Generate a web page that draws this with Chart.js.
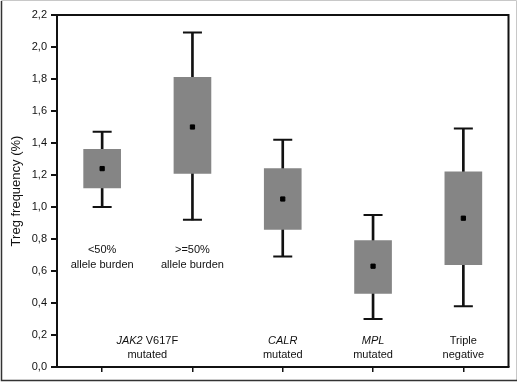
<!DOCTYPE html>
<html>
<head>
<meta charset="utf-8">
<script src="https://cdn.jsdelivr.net/npm/chart.js@4.4.1/dist/chart.umd.min.js"></script>
<style>
  html, body { margin: 0; padding: 0; background: #fff; }
  #wrap { width: 520px; height: 384px; position: relative; }
</style>
</head>
<body>
<div id="wrap"><canvas id="chart"></canvas></div>
<script>
// groups, left to right
const categories = ['<50% allele burden', '>=50% allele burden', 'CALR mutated', 'MPL mutated', 'Triple negative'];

// box plot values (Treg frequency, %)
const whiskerMax = [1.47, 2.09, 1.42, 0.95, 1.49];
const boxTop     = [1.36, 1.81, 1.24, 0.79, 1.22];
const boxBottom  = [1.12, 1.21, 0.86, 0.46, 0.64];
const whiskerMin = [1.00, 0.92, 0.69, 0.30, 0.38];
const means      = [1.24, 1.50, 1.05, 0.63, 0.93];

// texts inside the plot
const burdenLabels = [['<50%', 'allele burden'], ['>=50%', 'allele burden']];
const groupLabels = [
    [['JAK2', true], [' V617F', false]],
    [['CALR', true]],
    [['MPL', true]],
    [['Triple', false]]
];
const groupSecondLines = ['mutated', 'mutated', 'mutated', 'negative'];

const FONT = "'Liberation Sans', Arial, Helvetica, sans-serif";

// the plot frame (top and right) and the outer border of the figure
const framePlugin = {
    id: 'frame',
    afterDraw(chart) {
        const ctx = chart.ctx;
        const a = chart.chartArea;
        ctx.save();
        ctx.strokeStyle = '#111';
        ctx.lineWidth = 2;
        ctx.beginPath();
        ctx.moveTo(a.left, a.top);
        ctx.lineTo(a.right, a.top);
        ctx.lineTo(a.right, a.bottom);
        ctx.stroke();
        // outer border
        ctx.lineWidth = 1;
        ctx.strokeStyle = '#c8c8c8';
        ctx.beginPath();
        ctx.moveTo(1.5, 380.5);
        ctx.lineTo(1.5, 0.5);
        ctx.lineTo(516.5, 0.5);
        ctx.lineTo(516.5, 380.5);
        ctx.stroke();
        ctx.strokeStyle = '#333';
        ctx.lineWidth = 1.5;
        ctx.beginPath();
        ctx.moveTo(1.5, 1);
        ctx.lineTo(1.5, 380.5);
        ctx.lineTo(517, 380.5);
        ctx.stroke();
        ctx.restore();
    }
};

// labels under the boxes and group names above the x axis
const textPlugin = {
    id: 'texts',
    afterDatasetsDraw(chart) {
        const ctx = chart.ctx;
        const x = chart.scales.x;
        const y = chart.scales.y;
        ctx.save();
        ctx.fillStyle = '#111';
        ctx.textBaseline = 'middle';
        ctx.textAlign = 'center';
        ctx.font = '11px ' + FONT;
        burdenLabels.forEach((lines, i) => {
            ctx.fillText(lines[0], x.getPixelForValue(i), y.getPixelForValue(0.73));
            ctx.fillText(lines[1], x.getPixelForValue(i), y.getPixelForValue(0.64));
        });
        const groupCenters = [0.5, 2, 3, 4];
        groupLabels.forEach((parts, i) => {
            const cx = x.getPixelForValue(groupCenters[i]);
            const cy = y.getPixelForValue(0.16);
            let total = 0;
            parts.forEach(p => {
                ctx.font = (p[1] ? 'italic ' : '') + '11px ' + FONT;
                total += ctx.measureText(p[0]).width;
            });
            let px = cx - total / 2;
            ctx.textAlign = 'left';
            parts.forEach(p => {
                ctx.font = (p[1] ? 'italic ' : '') + '11px ' + FONT;
                ctx.fillText(p[0], px, cy);
                px += ctx.measureText(p[0]).width;
            });
            ctx.textAlign = 'center';
            ctx.font = '11px ' + FONT;
            ctx.fillText(groupSecondLines[i], cx, y.getPixelForValue(0.075));
        });
        ctx.restore();
    }
};

new Chart(document.getElementById('chart'), {
    type: 'bar',
    data: {
        labels: categories,
        datasets: [
            {
                // whisker stems, behind the boxes
                data: whiskerMax.map((v, i) => [whiskerMin[i], v]),
                backgroundColor: '#111',
                barThickness: 2,
                grouped: false,
                order: 3
            },
            {
                data: boxBottom.map((v, i) => [v, boxTop[i]]),
                backgroundColor: '#858585',
                barThickness: 37,
                grouped: false,
                order: 2
            },
            {
                type: 'line',
                data: whiskerMax,
                showLine: false,
                pointStyle: 'line',
                pointRadius: 9.5,
                borderColor: '#111',
                borderWidth: 2,
                order: 1
            },
            {
                type: 'line',
                data: whiskerMin,
                showLine: false,
                pointStyle: 'line',
                pointRadius: 9.5,
                borderColor: '#111',
                borderWidth: 2,
                order: 1
            },
            {
                type: 'line',
                data: means,
                showLine: false,
                pointStyle: 'rect',
                pointRadius: 3,
                backgroundColor: '#000',
                borderColor: '#000',
                borderWidth: 1,
                order: 0
            }
        ]
    },
    options: {
        responsive: true,
        maintainAspectRatio: false,
        animation: false,
        layout: { padding: { left: 0, right: 10, top: 15, bottom: 0 } },
        plugins: {
            legend: { display: false },
            tooltip: { enabled: false }
        },
        scales: {
            x: {
                type: 'category',
                offset: true,
                ticks: { display: false },
                grid: { offset: false, drawOnChartArea: false, tickLength: 5, color: '#111', lineWidth: 1.5 },
                border: { display: true, color: '#111', width: 2 },
                afterFit: s => { s.height = 17; }
            },
            y: {
                min: 0,
                max: 2.2,
                ticks: {
                    stepSize: 0.2,
                    padding: 4,
                    color: '#111',
                    font: { family: FONT, size: 11 },
                    callback: v => v.toFixed(1).replace('.', ',')
                },
                grid: { drawOnChartArea: false, tickLength: 6, color: '#111', lineWidth: 2 },
                border: { display: true, color: '#111', width: 2 },
                title: {
                    display: true,
                    text: 'Treg frequency (%)',
                    color: '#111',
                    font: { family: FONT, size: 13 },
                    padding: { top: 9, bottom: 0 }
                },
                afterFit: s => { s.width = 57; }
            }
        }
    },
    plugins: [framePlugin, textPlugin]
});
</script>
</body>
</html>
